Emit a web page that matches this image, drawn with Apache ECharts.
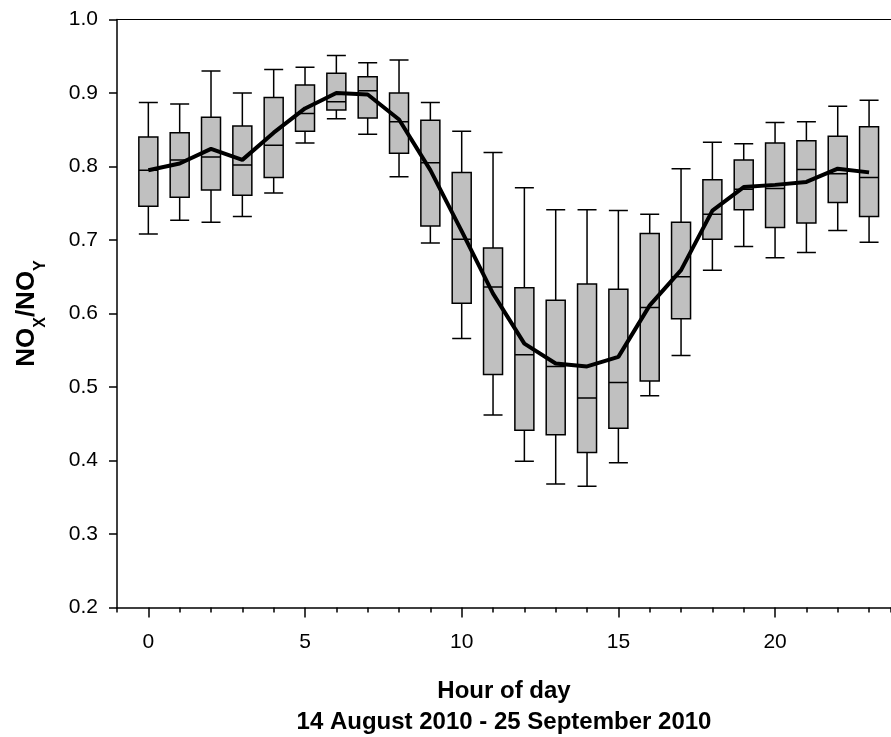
<!DOCTYPE html>
<html>
<head>
<meta charset="utf-8">
<script src="https://cdn.jsdelivr.net/npm/echarts@6/dist/echarts.min.js"></script>
<style>
html,body{margin:0;padding:0;background:#fff;}
#chart{width:891px;height:737px;}
</style>
</head>
<body>
<div id="chart"></div>
<script>
// ---- data ----
const hours = [0,1,2,3,4,5,6,7,8,9,10,11,12,13,14,15,16,17,18,19,20,21,22,23];
const whiskerLow  = [0.708,0.727,0.724,0.732,0.764,0.832,0.865,0.844,0.786,0.696,0.566,0.462,0.399,0.368,0.365,0.397,0.488,0.543,0.659,0.691,0.676,0.683,0.713,0.697];
const q1          = [0.746,0.758,0.768,0.761,0.785,0.848,0.877,0.866,0.818,0.719,0.614,0.517,0.441,0.435,0.411,0.444,0.508,0.593,0.701,0.741,0.717,0.723,0.751,0.732];
const medians     = [0.795,0.809,0.813,0.802,0.829,0.872,0.888,0.903,0.861,0.805,0.701,0.636,0.544,0.528,0.485,0.506,0.608,0.650,0.735,0.769,0.770,0.796,0.790,0.785];
const q3          = [0.840,0.846,0.867,0.855,0.894,0.911,0.927,0.922,0.900,0.863,0.792,0.689,0.635,0.618,0.640,0.633,0.709,0.724,0.782,0.809,0.832,0.835,0.841,0.854];
const whiskerHigh = [0.887,0.885,0.930,0.900,0.932,0.935,0.951,0.941,0.945,0.887,0.848,0.819,0.771,0.741,0.741,0.740,0.735,0.797,0.833,0.831,0.860,0.861,0.882,0.890];
const means       = [0.795,0.804,0.824,0.809,0.846,0.879,0.900,0.898,0.864,0.795,0.712,0.627,0.559,0.532,0.528,0.541,0.611,0.659,0.740,0.772,0.775,0.779,0.797,0.792];
const xTickLabels = [0,5,10,15,20];
const yTicks = [0.2,0.3,0.4,0.5,0.6,0.7,0.8,0.9,1.0];
const xTitle = 'Hour of day\n14 August 2010 - 25 September 2010';

const boxData = hours.map((h,i)=>[h, whiskerLow[i], q1[i], medians[i], q3[i], whiskerHigh[i]]);
const meanData = hours.map((h,i)=>[h, means[i]]);

const FONT = '"Liberation Sans", Arial, Helvetica, sans-serif';
const XMIN = -1, XMAX = 23.7;

const chart = echarts.init(document.getElementById('chart'), null, {renderer:'canvas'});
chart.setOption({
  backgroundColor:'#ffffff',
  animation:false,
  grid:{left:117, right:0, top:19.5, bottom:129.5, containLabel:false, outerBoundsMode:'none'},
  xAxis:[
    {
      type:'value', min:XMIN, max:XMAX, position:'bottom',
      splitLine:{show:false},
      axisLine:{show:true, onZero:false, lineStyle:{color:'#000', width:1.5}},
      axisTick:{show:true, inside:false, length:10, lineStyle:{color:'#000', width:1.5}, customValues:xTickLabels},
      axisLabel:{show:true, customValues:xTickLabels, margin:24, color:'#000', fontSize:21, fontFamily:FONT,
        formatter:v=>String(v)},
      name:xTitle, nameLocation:'middle', nameGap:68,
      nameTextStyle:{color:'#000', fontSize:24, fontWeight:'bold', fontFamily:FONT, lineHeight:31}
    },
    {
      type:'value', min:XMIN, max:XMAX, position:'bottom', interval:1,
      splitLine:{show:false},
      axisLine:{show:false, onZero:false},
      axisTick:{show:true, length:5, lineStyle:{color:'#000', width:1.5}},
      axisLabel:{show:false}
    },
    {
      type:'value', min:XMIN, max:XMAX, position:'top',
      splitLine:{show:false},
      axisLine:{show:true, onZero:false, lineStyle:{color:'#000', width:1.2}},
      axisTick:{show:false},
      axisLabel:{show:false}
    }
  ],
  yAxis:{
    type:'value', min:yTicks[0], max:yTicks[yTicks.length-1], interval:0.1,
    splitLine:{show:false},
    axisLine:{show:true, onZero:false, lineStyle:{color:'#000', width:1.5}},
    axisTick:{show:true, length:8, lineStyle:{color:'#000', width:1.5}},
    axisLabel:{margin:19, color:'#000', fontSize:21, fontFamily:FONT, formatter:v=>v.toFixed(1)},
    name:'{b|NO}{s|X}{b|/NO}{s|Y}', nameLocation:'middle', nameGap:71,
    nameTextStyle:{color:'#000', fontFamily:FONT,
      rich:{
        b:{fontSize:26, fontWeight:'bold', fontFamily:FONT, color:'#000', lineHeight:26, padding:[0,0,12,0]},
        s:{fontSize:16, fontWeight:'bold', fontFamily:FONT, color:'#000', lineHeight:16, padding:[15,0,0,0]}
      }
    }
  },
  series:[
    {
      type:'boxplot', xAxisIndex:0, yAxisIndex:0,
      data:boxData,
      boxWidth:[19,19],
      itemStyle:{color:'#c0c0c0', borderColor:'#000', borderWidth:1.5},
      emphasis:{disabled:true},
      z:2
    },
    {
      type:'line', xAxisIndex:0, yAxisIndex:0,
      data:meanData,
      showSymbol:false, symbol:'none',
      lineStyle:{color:'#000', width:4},
      z:5
    }
  ]
});
</script>
</body>
</html>
